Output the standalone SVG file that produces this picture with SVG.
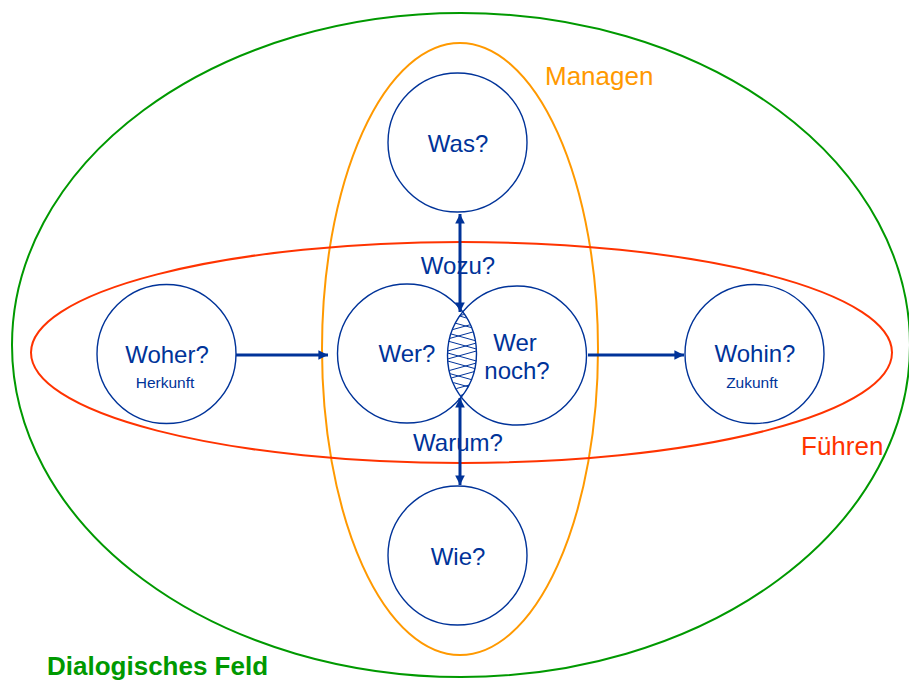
<svg xmlns="http://www.w3.org/2000/svg" width="909" height="681" viewBox="0 0 909 681">
  <style>
    .field { fill: none; stroke-width: 2; }
    .node circle { fill: none; stroke: #003399; stroke-width: 1.4; }
    .q { font-family: "Liberation Sans", Arial, sans-serif; font-size: 24px; fill: #003399; text-anchor: middle; }
    .sub { font-family: "Liberation Sans", Arial, sans-serif; font-size: 15.5px; fill: #003399; text-anchor: middle; }
    .lbl { font-family: "Liberation Sans", Arial, sans-serif; font-size: 26px; }
    .conn line { stroke: #003399; stroke-width: 3; }
    .hatch { fill: none; stroke: #003399; stroke-width: 1; }
  </style>
  <defs>
    <marker id="head" viewBox="0 0 10 10" refX="10" refY="5" markerWidth="3.2" markerHeight="3.2" orient="auto-start-reverse" markerUnits="strokeWidth">
      <path d="M0,0 L10,5 L0,10 Z" fill="#003399"/>
    </marker>
    <clipPath id="lens">
      <path d="M462,312 A69.5,69.5 0 0 1 462,397 A69.5,69.5 0 0 1 462,312 Z"/>
    </clipPath>
  </defs>
  <rect width="909" height="681" fill="#ffffff"/>

  <!-- fields -->
  <g id="field-dialog">
    <ellipse class="field" cx="461" cy="345" rx="449" ry="332" stroke="#009900"/>
    <text class="lbl" x="47" y="675" fill="#009900" font-weight="bold" font-size="26.5px">Dialogisches Feld</text>
  </g>
  <g id="field-managen">
    <ellipse class="field" cx="460" cy="349" rx="138" ry="306" stroke="#FF9900"/>
    <text class="lbl" x="545" y="85" fill="#FF9900">Managen</text>
  </g>
  <g id="field-fuehren">
    <ellipse class="field" cx="461.5" cy="352.5" rx="430.5" ry="110.5" stroke="#FF3300"/>
    <text class="lbl" x="801" y="455" fill="#FF3300">Führen</text>
  </g>

  <!-- question nodes -->
  <g id="node-was" class="node">
    <circle cx="457.5" cy="142.5" r="69.5"/>
    <text class="q" x="458" y="152">Was?</text>
  </g>
  <g id="node-wie" class="node">
    <circle cx="457.5" cy="555.5" r="69.5"/>
    <text class="q" x="458" y="565">Wie?</text>
  </g>
  <g id="node-woher" class="node">
    <circle cx="166.5" cy="354" r="69.5"/>
    <text class="q" x="167" y="363">Woher?</text>
    <text class="sub" x="165" y="388">Herkunft</text>
  </g>
  <g id="node-wohin" class="node">
    <circle cx="754.5" cy="354" r="69.5"/>
    <text class="q" x="755" y="362">Wohin?</text>
    <text class="sub" x="752" y="388">Zukunft</text>
  </g>
  <g id="node-wer" class="node">
    <circle cx="407" cy="353.5" r="69.5"/>
    <text class="q" x="407" y="362">Wer?</text>
  </g>
  <g id="node-wer-noch" class="node">
    <circle cx="517" cy="355.5" r="69.5"/>
    <text class="q" x="515" y="351">Wer</text>
    <text class="q" x="517" y="379">noch?</text>
  </g>

  <!-- shared area of Wer? and Wer noch? -->
  <g id="overlap" clip-path="url(#lens)">
    <polyline class="hatch" points="446,312 480,322 444,332 480,342 444,352 480,362 444,372 480,382 444,392 480,400"/>
    <polyline class="hatch" points="480,310 444,320 480,330 444,340 480,350 444,360 480,370 444,380 480,390 444,400"/>
  </g>

  <!-- labels on the vertical axis -->
  <text class="q" x="458" y="274">Wozu?</text>
  <text class="q" x="458" y="451">Warum?</text>

  <!-- connectors -->
  <g id="connectors" class="conn">
    <line x1="460" y1="214" x2="460" y2="312" marker-start="url(#head)" marker-end="url(#head)"/>
    <line x1="460" y1="398" x2="460" y2="485" marker-start="url(#head)" marker-end="url(#head)"/>
    <line x1="236" y1="355" x2="328" y2="355" marker-end="url(#head)"/>
    <line x1="588" y1="355" x2="684" y2="355" marker-end="url(#head)"/>
  </g>
</svg>
